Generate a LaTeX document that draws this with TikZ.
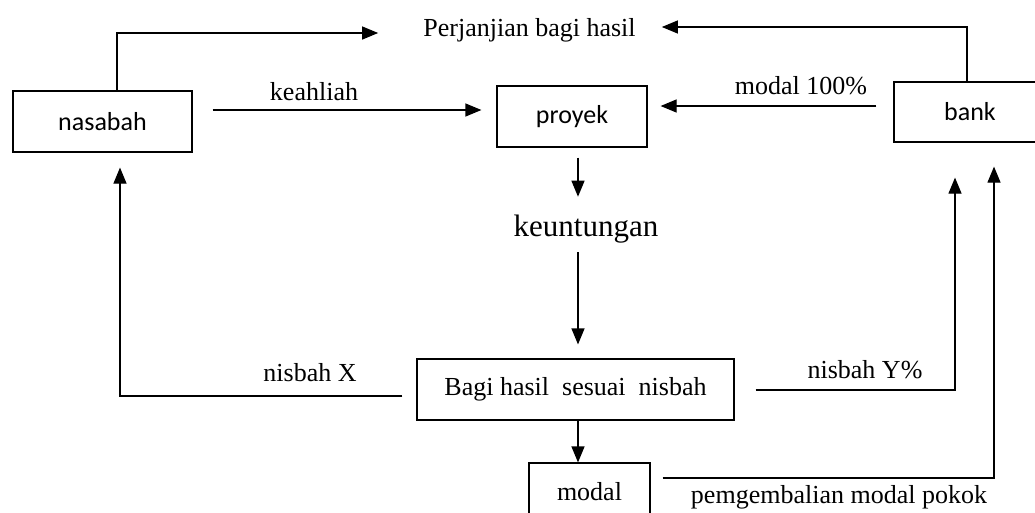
\documentclass[tikz,border=0pt]{standalone}
\usepackage{fontspec}
\setmainfont{Liberation Serif}
\newfontfamily\boxfont{Carlito}
\usetikzlibrary{arrows.meta,positioning}
\tikzset{>={Triangle[length=16pt,width=13pt]},
 box/.style={draw,line width=1.2pt,inner sep=0pt,minimum height=61pt,align=center},
 sbox/.style={box,font=\boxfont\fontsize{26}{30}\selectfont},
 tbox/.style={box,font=\fontsize{26}{30}\selectfont},
 lab/.style={inner sep=0pt,font=\fontsize{26}{30}\selectfont},
 link/.style={draw,line width=1.2pt,->}}
\begin{document}
\begin{tikzpicture}[x=1pt,y=-1pt]
\useasboundingbox (0,0) rectangle (1035,512);
% boxes
\node[sbox,minimum width=179pt] (nasabah) at (102.5,121.5) {nasabah};
\node[sbox,minimum width=150pt] (proyek) at (572,116.5) {proyek};
\node[sbox,minimum width=152pt,minimum height=60pt] (bank) at (970,112) {bank};
\node[lab,font=\fontsize{31}{36}\selectfont] (untung) at (586,229) {keuntungan};
\node[tbox,minimum width=317pt] (bagi) at (575.5,389.5) {Bagi hasil\ \ sesuai\ \ nisbah};
\node[tbox,minimum width=121pt,minimum height=58pt] (modal) at (589.5,492) {modal};
% labels
\node[lab] (perj) at (529.5,30) {Perjanjian bagi hasil};
\node[lab] (lkeahlian) at (314,92) {keahliah};
\node[lab] (lmodal) at (801,86) {modal 100\%};
\node[lab] (lnx) at (310,373) {nisbah X};
\node[lab] (lny) at (865,370) {nisbah Y\%};
\node[lab] (lpokok) at (839,497) {pemgembalian modal pokok};
% bend points
\coordinate (axis) at (578,0);
\coordinate (pl) at (117,33);
\coordinate (pr) at (967,27);
\coordinate (kh) at (0,110);
\coordinate (md) at (0,106);
\coordinate (nx) at (120,396);
\coordinate (ny) at (955,390);
\coordinate (pm) at (994,478);
% connectors
\draw[link,shorten >=45pt] (nasabah.north -| pl) |- (perj.west |- pl);
\draw[link,shorten >=26pt] (bank.north -| pr) |- (perj.east |- pr);
\draw[link,shorten <=20pt,shorten >=15pt] (nasabah.east |- kh) -- (proyek.west |- kh);
\draw[link,shorten <=17pt,shorten >=13pt] (bank.west |- md) -- (proyek.east |- md);
\draw[link,shorten <=10pt,shorten >=18pt] (proyek.south -| axis) -- (untung.north -| axis);
\draw[link,shorten <=9pt,shorten >=14pt] (untung.south -| axis) -- (bagi.north -| axis);
\draw[link] (bagi.south -| axis) -- (modal.north -| axis);
\draw[link,shorten <=14pt,shorten >=15pt] (bagi.west |- nx) -| (nasabah.south -| nx);
\draw[link,shorten <=21pt,shorten >=35pt] (bagi.east |- ny) -| (bank.south -| ny);
\draw[link,shorten <=12pt,shorten >=24pt] (modal.east |- pm) -| (bank.south -| pm);
\end{tikzpicture}
\end{document}
